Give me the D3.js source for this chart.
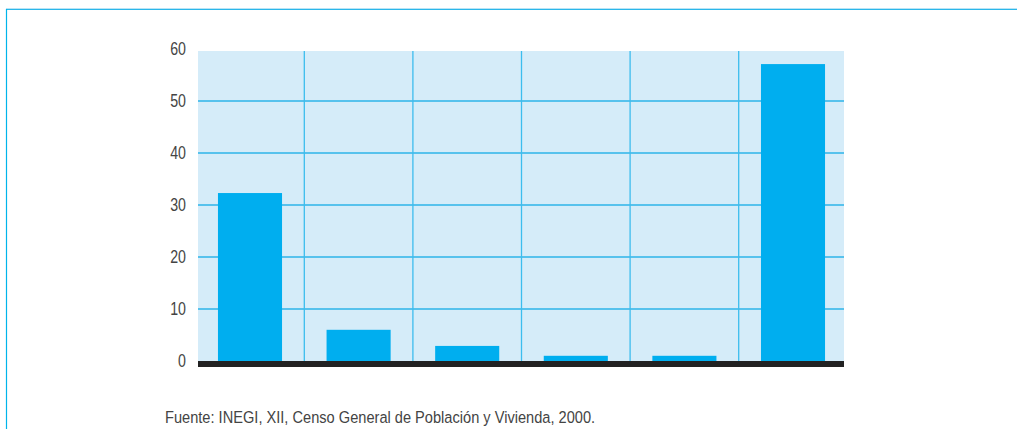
<!DOCTYPE html>
<html>
<head>
<meta charset="utf-8">
<script src="https://cdn.jsdelivr.net/npm/d3@7/dist/d3.min.js"></script>
<style>
  html, body { margin: 0; padding: 0; background: #fff; }
  svg { display: block; }
  text { font-family: "Liberation Sans", Arial, sans-serif; }
</style>
</head>
<body>
<svg id="chart" width="1017" height="429"></svg>
<script>
// Porcentaje por categoría
const categories = ["A", "B", "C", "D", "E", "F"];
const values = [32.3, 6.0, 2.9, 1.0, 1.0, 57.1];
const yTicks = [0, 10, 20, 30, 40, 50, 60];
const source = "Fuente: INEGI, XII, Censo General de Población y Vivienda, 2000.";

const svg = d3.select("#chart");
const W = 1017, H = 429;
const narrow = 0.81;   // horizontal condensing for the labels

// Frame lines
svg.append("line").attr("x1", 6).attr("x2", W).attr("y1", 8.5).attr("y2", 8.5)
  .attr("stroke", "#b8e4f6").attr("stroke-width", 1);
svg.append("line").attr("x1", 6).attr("x2", W).attr("y1", 9.5).attr("y2", 9.5)
  .attr("stroke", "#2ab7ea").attr("stroke-width", 1.2);
svg.append("line").attr("x1", 6.5).attr("x2", 6.5).attr("y1", 9).attr("y2", H)
  .attr("stroke", "#00b4ea").attr("stroke-width", 1.2);

const plot = { left: 198, right: 844, top: 51 };

const x = d3.scaleBand().domain(categories).range([195.7, 847.3])
  .paddingInner(0.41).paddingOuter(0.205);
const y = d3.scaleLinear().domain([0, 60]).range([361, 49]);

// Plot background
svg.append("rect")
  .attr("x", plot.left).attr("y", plot.top)
  .attr("width", plot.right - plot.left).attr("height", y(0) - plot.top)
  .attr("fill", "#d5ecf9");

// Horizontal gridlines
svg.append("g").selectAll("line").data(yTicks.filter(d => d > 0 && d < 60)).join("line")
  .attr("x1", plot.left).attr("x2", plot.right)
  .attr("y1", d => y(d)).attr("y2", d => y(d))
  .attr("stroke", "#2cb5e8").attr("stroke-width", 1.3);

// Vertical separators between categories
const step = x.step();
svg.append("g").selectAll("line").data(categories.slice(1)).join("line")
  .attr("x1", d => x(d) + x.bandwidth() / 2 - step / 2)
  .attr("x2", d => x(d) + x.bandwidth() / 2 - step / 2)
  .attr("y1", plot.top).attr("y2", y(0))
  .attr("stroke", "#3cbdee").attr("stroke-width", 1.3);

// Bars
svg.append("g").selectAll("rect").data(values).join("rect")
  .attr("x", (d, i) => x(categories[i]))
  .attr("width", x.bandwidth())
  .attr("y", d => y(d))
  .attr("height", d => y(0) - y(d))
  .attr("fill", "#00aeef");

// Zero baseline
svg.append("rect").attr("x", plot.left).attr("y", y(0))
  .attr("width", plot.right - plot.left).attr("height", 6)
  .attr("fill", "#222222");

// Y axis labels
svg.append("g").selectAll("text").data(yTicks).join("text")
  .attr("transform", d => `translate(186,${y(d)}) scale(${narrow},1)`)
  .attr("text-anchor", "end")
  .attr("dy", "0.36em")
  .attr("font-size", 17.5)
  .attr("fill", "#444")
  .text(d3.format("d"));

// Source note
svg.append("text")
  .attr("transform", `translate(165,423) scale(0.86,1)`)
  .attr("font-size", 17)
  .attr("fill", "#444")
  .text(source);
</script>
</body>
</html>
